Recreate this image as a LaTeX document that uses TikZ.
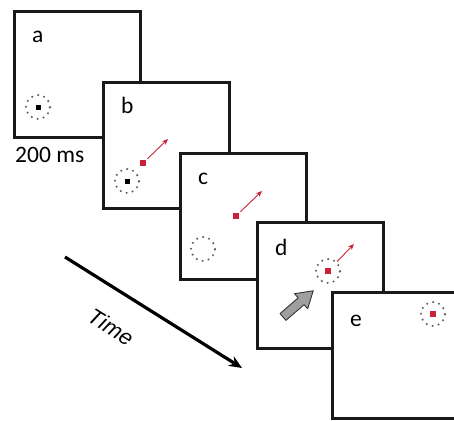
\documentclass[tikz,border=0pt]{standalone}
\usepackage{fontspec}
\setmainfont{Carlito}
\newfontfamily\arialfont{Liberation Sans}
\usetikzlibrary{arrows.meta}
\definecolor{cuered}{RGB}{200,35,55}
\definecolor{dotgray}{RGB}{95,95,95}
\tikzset{
  panel/.style={draw=black!90, line width=2.8pt, fill=white, minimum width=126pt, minimum height=126pt, inner sep=0pt, anchor=north west},
  letter/.style={font=\fontsize{23.5}{25}\selectfont, inner sep=0pt, anchor=base west},
  cue/.style={circle, draw=dotgray, line width=2.3pt, dash pattern=on 0pt off 6.2pt, line cap=round, minimum size=24pt, inner sep=0pt},
  fixdot/.style={fill=black, minimum size=5pt, inner sep=0pt},
  target/.style={fill=cuered, minimum size=5.5pt, inner sep=0pt},
  motion/.style={draw=cuered, line width=0.9pt, -{Stealth[length=6pt,width=5pt]}},
}
\begin{document}
\begin{tikzpicture}[x=1pt,y=-1pt]
\useasboundingbox (0,0) rectangle (454,420);

% panel a: fixation
\begin{scope}[shift={(13,10)}]
  \node[panel] (pa) at (0,0) {};
  \node[letter] (la) at (19,32) {a};
  \node[cue] (ca) at (25,97) {};
  \node[fixdot] (fa) at (ca.center) {};
\end{scope}
\node[font=\fontsize{23.5}{25}\selectfont, inner sep=0pt, anchor=base west] (dur) at (15,162) {200 ms};

% panel b: target onset
\begin{scope}[shift={(102,81)}]
  \node[panel] (pb) at (0,0) {};
  \node[letter] (lb) at (19,32) {b};
  \node[cue] (cb) at (25,100) {};
  \node[fixdot] (fb) at (cb.center) {};
  \node[target] (rb) at (41,82) {};
  \coordinate (tb) at (66,58);
  \draw[motion, shorten <=2pt] (rb) -- (tb);
\end{scope}

% panel c: fixation removed
\begin{scope}[shift={(179,152)}]
  \node[panel] (pc) at (0,0) {};
  \node[letter] (lc) at (19,32) {c};
  \node[cue] (cc) at (24,97) {};
  \node[target] (rc) at (57,64) {};
  \coordinate (tc) at (83,39);
  \draw[motion, shorten <=2pt] (rc) -- (tc);
\end{scope}

% panel d: pursuit with response cue
\begin{scope}[shift={(256,221)}]
  \node[panel] (pd) at (0,0) {};
  \node[letter] (ld) at (19,34) {d};
  \node[cue] (cd) at (72,50) {};
  \node[target] (rd) at (cd.center) {};
  \coordinate (td) at (98,23);
  \draw[motion] (cd) -- (td);
  % grey block arrow
  \begin{scope}[shift={(27,96)}, rotate=41]
    \coordinate (ga) at (0,0);
    \filldraw[fill=gray!75, draw=black!80, line width=0.9pt, line join=round]
      (0,-4.5) -- (24,-4.5) -- (24,-10) -- (40,0) -- (24,10) -- (24,4.5) -- (0,4.5) -- cycle;
  \end{scope}
\end{scope}

% panel e: final position
\begin{scope}[shift={(331,291)}]
  \node[panel] (pe) at (0,0) {};
  \node[letter] (le) at (19,35) {e};
  \node[cue] (ce) at (102,23) {};
  \node[target] (re) at (ce.center) {};
\end{scope}

% time axis
\coordinate (t0) at (65,257);
\coordinate (t1) at (242,368);
\draw[line width=3.2pt, -{Stealth[length=13pt,width=11pt]}] (t0) -- (t1);
\node[font=\arialfont\itshape\fontsize{22}{24}\selectfont, rotate=-32, inner sep=0pt] (tl) at (111,327) {Time};
\end{tikzpicture}
\end{document}
